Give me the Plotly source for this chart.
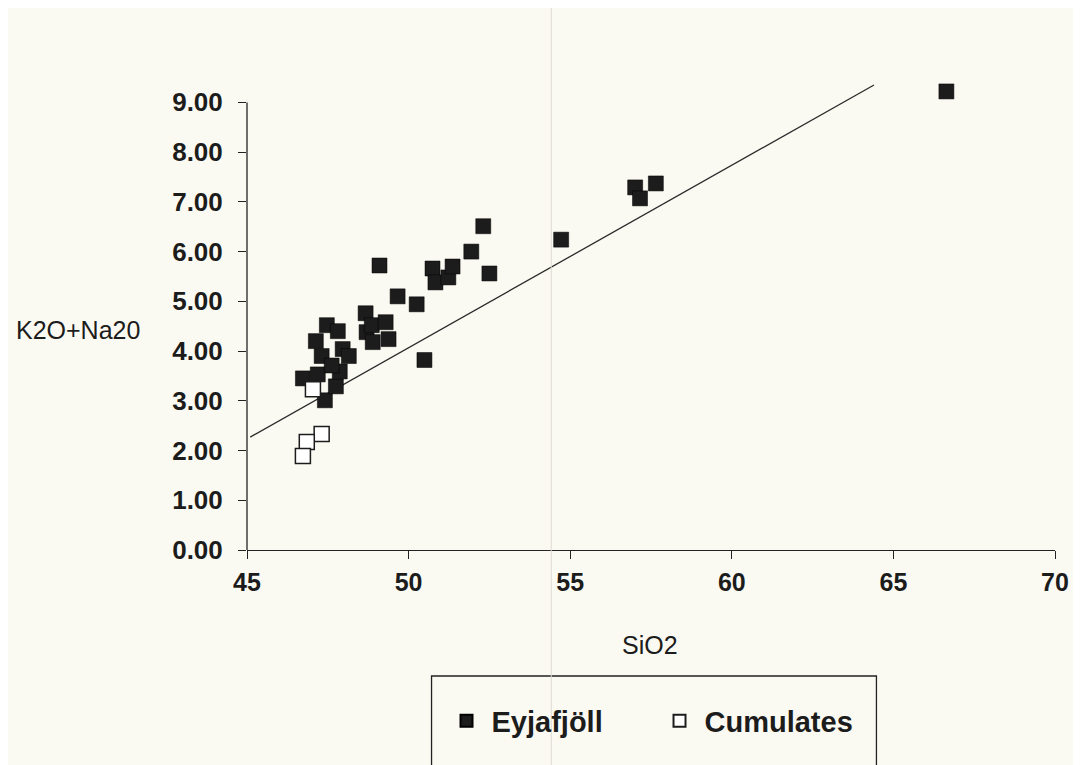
import plotly.graph_objects as go

# ---- data ----
eyj_sio2 = [46.73, 47.13, 47.47, 47.81, 47.31, 47.19, 47.41, 47.75, 47.87, 47.96,
            48.15, 47.62, 48.67, 48.70, 48.89, 48.86, 49.29, 49.38, 49.10, 49.66,
            50.25, 50.49, 50.74, 50.83, 51.23, 51.36, 51.94, 52.31, 52.50, 54.72,
            57.01, 57.16, 57.65, 66.64]
eyj_alk = [3.45, 4.20, 4.52, 4.40, 3.90, 3.53, 3.01, 3.29, 3.59, 4.04,
           3.90, 3.71, 4.76, 4.38, 4.18, 4.52, 4.58, 4.24, 5.72, 5.10,
           4.94, 3.82, 5.66, 5.38, 5.48, 5.70, 6.00, 6.51, 5.56, 6.24,
           7.29, 7.07, 7.37, 9.22]

cum_sio2 = [47.04, 47.31, 46.85, 46.73]
cum_alk = [3.23, 2.33, 2.17, 1.89]

line_sio2 = [45.1, 64.4]
line_alk = [2.27, 9.35]

x_ticks = [45, 50, 55, 60, 65, 70]
y_ticks = [0, 1, 2, 3, 4, 5, 6, 7, 8, 9]

FONT = "Liberation Sans, Arial, sans-serif"
INK = "#1c1c1c"
BG = "#fbfaf2"

# page offset of the plot div (default body margin)
OFF = 8
W, H = 1073, 757
L, R, T, B = 239, 24, 72, 215
pw, ph = W - L - R, H - T - B


def px_x(p):
    return (p - OFF - L) / pw


def px_y(p):
    return (OFF + T + ph - p) / ph


fig = go.Figure()
fig.add_trace(go.Scatter(x=line_sio2, y=line_alk, mode="lines",
                         line=dict(color="#2a2a2a", width=1.3),
                         showlegend=False, hoverinfo="skip"))
fig.add_trace(go.Scatter(x=eyj_sio2, y=eyj_alk, mode="markers", name="Eyjafjöll",
                         marker=dict(symbol="square", size=15, color=INK,
                                     line=dict(color="#000000", width=0.5)),
                         cliponaxis=False))
fig.add_trace(go.Scatter(x=cum_sio2, y=cum_alk, mode="markers", name="Cumulates",
                         marker=dict(symbol="square", size=15, color="#ffffff",
                                     line=dict(color=INK, width=1.5)),
                         cliponaxis=False))

fig.update_layout(
    width=W, height=H,
    margin=dict(l=L, r=R, t=T, b=B),
    paper_bgcolor=BG, plot_bgcolor=BG,
    font=dict(family=FONT, color=INK),
    xaxis=dict(range=[45, 70], tickvals=x_ticks, ticktext=[str(v) for v in x_ticks],
               showgrid=False, zeroline=False, showline=True, linecolor="#222",
               linewidth=1.3, ticks="outside", ticklen=8, tickcolor="#222",
               tickfont=dict(size=25, family=FONT, weight="bold", color=INK),
               ticklabelstandoff=2),
    yaxis=dict(range=[0, 9.45], tickvals=y_ticks, tickformat=".2f",
               showgrid=False, zeroline=False, showline=False,
               ticks="outside", ticklen=8, tickcolor="#222",
               tickfont=dict(size=26, family=FONT, weight="bold", color=INK),
               ticklabelstandoff=10),
    showlegend=True,
    legend=dict(orientation="h", x=px_x(442), y=px_y(721), xanchor="left",
                yanchor="middle", bgcolor="rgba(0,0,0,0)", borderwidth=0,
                font=dict(size=29, family=FONT, weight="bold", color=INK),
                itemsizing="constant", itemwidth=40,
                entrywidthmode="pixels", entrywidth=158),
    shapes=[
        dict(type="line", xref="paper", yref="y", x0=0, x1=0, y0=0, y1=9,
             line=dict(color="#222", width=1.3)),
        dict(type="rect", xref="paper", yref="paper",
             x0=px_x(432), x1=px_x(878), y0=px_y(800), y1=px_y(676),
             line=dict(color="#222", width=1.3), fillcolor="rgba(0,0,0,0)"),
        dict(type="line", xref="paper", yref="paper",
             x0=px_x(552), x1=px_x(552), y0=px_y(800), y1=px_y(0),
             line=dict(color="#dcdad0", width=1)),
    ],
    annotations=[
        dict(text="K2O+Na20", xref="paper", yref="paper", x=px_x(13), y=px_y(330),
             xanchor="left", yanchor="middle", showarrow=False,
             font=dict(size=25, family=FONT, color=INK)),
        dict(text="SiO2", xref="paper", yref="paper", x=px_x(651), y=px_y(645),
             xanchor="center", yanchor="middle", showarrow=False,
             font=dict(size=25, family=FONT, color=INK)),
    ],
)

fig.write_html("out.html")
